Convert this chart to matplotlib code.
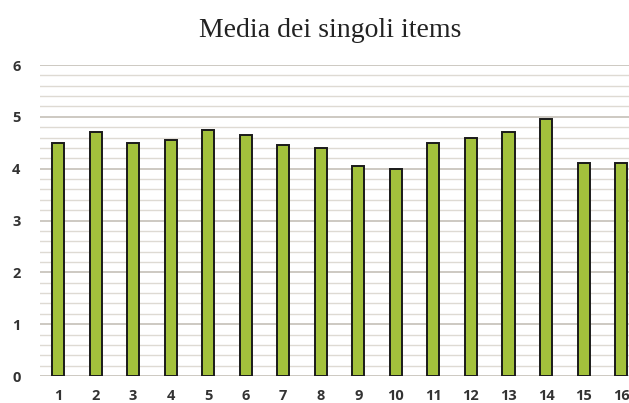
import matplotlib
matplotlib.use("Agg")
import matplotlib.pyplot as plt
from matplotlib.ticker import MultipleLocator

# valori medi per item
items = list(range(1, 17))
medie = [4.5, 4.7, 4.5, 4.55, 4.75, 4.65, 4.45, 4.4,
         4.05, 4.0, 4.5, 4.6, 4.7, 4.95, 4.1, 4.1]
item_labels = [str(i) for i in items]

fig = plt.figure(figsize=(6.29, 4.03), dpi=100)
ax = fig.add_axes([40 / 629, 27 / 403, 589 / 629, 311 / 403])

# griglia maggiore e minore
ax.yaxis.set_major_locator(MultipleLocator(1))
ax.yaxis.set_minor_locator(MultipleLocator(0.2))
ax.grid(which='major', axis='y', color='#c9c5bd', linewidth=1.3, zorder=0)
ax.grid(which='minor', axis='y', color='#dedad3', linewidth=1.0, zorder=0)

ax.bar(items, medie, width=0.32, color='#a3c13c', edgecolor='#1a1a1a',
       linewidth=1.4, zorder=3)

ax.set_xlim(0.52, 16.21)
ax.set_ylim(0, 6)
ax.set_xticks(items)
ax.set_xticklabels(item_labels)

for s in ax.spines.values():
    s.set_visible(False)
ax.tick_params(which='both', length=0)
ax.tick_params(axis='x', pad=9)
ax.tick_params(axis='y', pad=14)
for lab in ax.get_xticklabels() + ax.get_yticklabels():
    lab.set_fontfamily('Open Sans')
    lab.set_fontweight('bold')
    lab.set_fontsize(10.5)
    lab.set_color('#333333')

fig.text(0.525, 0.925, 'Media dei singoli items', ha='center', va='center',
         fontfamily='Liberation Serif', fontsize=20, color='#222222')

fig.savefig('out.png', dpi=100)
